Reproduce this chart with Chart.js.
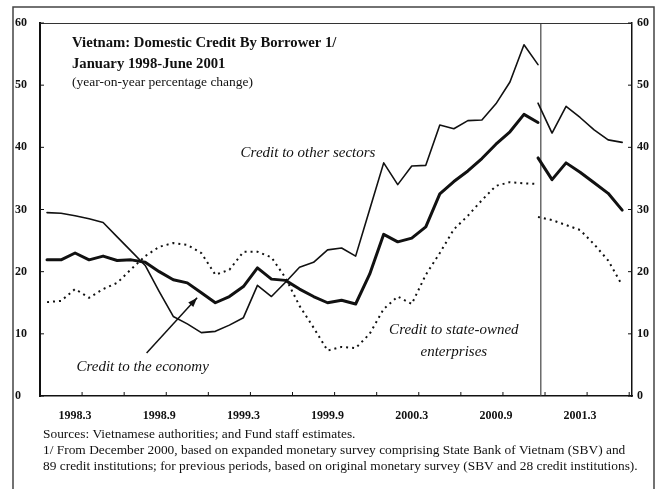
<!DOCTYPE html>
<html>
<head>
<meta charset="utf-8">
<script src="https://cdn.jsdelivr.net/npm/chart.js@4.4.1/dist/chart.umd.min.js"></script>
<style>
    html, body { margin:0; padding:0; background:#fff; }
    #wrap { width:656px; height:489px; }
</style>
</head>
<body>
<div id="wrap"><canvas id="myChart" width="656" height="489"></canvas></div>
<script>
// ============================================================
// DATA — monthly, year-on-year % change
// ============================================================

const periods = [
    '1998.1','1998.2','1998.3','1998.4','1998.5','1998.6','1998.7','1998.8','1998.9','1998.10','1998.11','1998.12',
    '1999.1','1999.2','1999.3','1999.4','1999.5','1999.6','1999.7','1999.8','1999.9','1999.10','1999.11','1999.12',
    '2000.1','2000.2','2000.3','2000.4','2000.5','2000.6','2000.7','2000.8','2000.9','2000.10','2000.11','2000.12',
    '2001.1','2001.2','2001.3','2001.4','2001.5','2001.6'
];

// old monetary survey: Jan 1998 - Dec 2000, expanded survey: Dec 2000 - Jun 2001
const oldBasisPeriods = periods.slice(0, 36);
const newBasisPeriods = periods.slice(35);

const otherSectorsOld = [29.5,29.4,29.0,28.5,27.9,25.6,23.3,21.0,16.8,12.8,11.6,10.2,
                         10.4,11.4,12.6,17.8,16.0,18.3,20.7,21.5,23.5,23.8,22.5,30.0,
                         37.5,34.0,37.0,37.1,43.6,43.0,44.3,44.4,47.0,50.5,56.5,53.3];
const otherSectorsNew = [47.1,42.3,46.6,44.8,42.8,41.2,40.8];

const economyOld = [21.9,21.9,23.0,21.9,22.5,21.8,21.9,21.5,20.0,18.7,18.2,16.6,
                    15.0,16.0,17.6,20.6,18.8,18.6,17.2,16.0,15.0,15.4,14.8,19.6,
                    26.0,24.8,25.4,27.2,32.5,34.5,36.2,38.2,40.5,42.5,45.3,44.0];
const economyNew = [38.3,34.8,37.5,36.0,34.3,32.6,29.9];

const soeOld = [15.1,15.3,17.2,15.8,17.2,18.2,20.4,22.5,24.0,24.6,24.3,23.0,
                19.5,20.3,23.2,23.2,22.3,19.0,14.5,11.0,7.3,7.9,7.7,10.0,
                14.0,16.0,14.8,19.5,23.0,26.8,29.0,31.5,33.8,34.4,34.2,34.1];
const soeNew = [28.8,28.3,27.5,26.7,24.4,21.8,17.8];

const xTickLabels = ['1998.3','1998.9','1999.3','1999.9','2000.3','2000.9','2001.3'];
const yTicks      = [0,10,20,30,40,50,60];
const breakAt     = 35.2;   // survey change, Dec 2000

const titleLines = [
    'Vietnam: Domestic Credit By Borrower 1/',
    'January 1998-June 2001',
    '(year-on-year percentage change)'
];
const footnotes = [
    'Sources: Vietnamese authorities; and Fund staff estimates.',
    '1/ From December 2000, based on expanded monetary survey comprising State Bank of Vietnam (SBV) and',
    '89 credit institutions; for previous periods, based on original monetary survey (SBV and 28 credit institutions).'
];

// ============================================================
// HELPERS
// ============================================================

function toPoints(keys, values) {
    return values.map((v, i) => ({ x: periods.indexOf(keys[i]), y: v }));
}

const INK   = '#111111';
const SERIF = '"Liberation Serif", "DejaVu Serif", serif';

function line(data, width, dash) {
    return {
        data: data,
        borderColor: INK,
        borderWidth: width,
        borderDash: dash || [],
        borderCapStyle: dash ? 'butt' : 'round',
        borderJoinStyle: 'round',
        pointRadius: 0,
        tension: 0,
        fill: false
    };
}

// ============================================================
// DECORATION — frames, title, labels, notes
// ============================================================

const decor = {
    id: 'decor',
    beforeDatasetsDraw(chart) {
        const { ctx, chartArea: a, scales } = chart;
        const bx = scales.x.getPixelForValue(breakAt);
        ctx.save();
        ctx.strokeStyle = '#444';
        ctx.lineWidth = 1.2;
        ctx.beginPath();
        ctx.moveTo(bx, a.top);
        ctx.lineTo(bx, a.bottom);
        ctx.stroke();
        ctx.restore();
    },
    afterDraw(chart) {
        const { ctx, chartArea: a, scales } = chart;
        const x = scales.x, y = scales.y;
        ctx.save();

        // outer frame
        ctx.strokeStyle = '#444';
        ctx.lineWidth = 1.5;
        ctx.beginPath();
        ctx.moveTo(13, 489);
        ctx.lineTo(13, 7);
        ctx.lineTo(654, 7);
        ctx.lineTo(654, 489);
        ctx.stroke();

        // top of plot frame
        ctx.strokeStyle = '#333';
        ctx.lineWidth = 1;
        ctx.beginPath();
        ctx.moveTo(a.left, a.top + 0.5);
        ctx.lineTo(a.right, a.top + 0.5);
        ctx.stroke();

        // inward ticks
        ctx.strokeStyle = INK;
        ctx.beginPath();
        yTicks.forEach(v => {
            const py = y.getPixelForValue(v);
            ctx.moveTo(a.left, py);      ctx.lineTo(a.left + 4, py);
            ctx.moveTo(a.right - 4, py); ctx.lineTo(a.right, py);
        });
        for (let i = 2.5; i < periods.length; i += 3) {
            const px = x.getPixelForValue(i);
            ctx.moveTo(px, a.bottom); ctx.lineTo(px, a.bottom - 4);
        }
        ctx.stroke();

        // title
        ctx.fillStyle = INK;
        ctx.textBaseline = 'middle';
        ctx.textAlign = 'left';
        ctx.font = 'bold 14.7px ' + SERIF;
        ctx.fillText(titleLines[0], 72, 43);
        ctx.fillText(titleLines[1], 72, 64);
        ctx.font = '13.5px ' + SERIF;
        ctx.fillText(titleLines[2], 72, 82);

        // series labels
        ctx.font = 'italic 15px ' + SERIF;
        ctx.fillText('Credit to other sectors', x.getPixelForValue(13.8), y.getPixelForValue(39.1));
        ctx.fillText('Credit to the economy',   x.getPixelForValue(2.1),  y.getPixelForValue(4.7));
        ctx.textAlign = 'center';
        ctx.fillText('Credit to state-owned', x.getPixelForValue(29.0), y.getPixelForValue(10.6));
        ctx.fillText('enterprises',           x.getPixelForValue(29.0), y.getPixelForValue(7.1));

        // arrow to the economy line
        const x0 = x.getPixelForValue(7.1),  y0 = y.getPixelForValue(6.9);
        const x1 = x.getPixelForValue(10.7), y1 = y.getPixelForValue(15.8);
        const ang = Math.atan2(y1 - y0, x1 - x0);
        ctx.strokeStyle = INK;
        ctx.lineWidth = 1.5;
        ctx.beginPath();
        ctx.moveTo(x0, y0);
        ctx.lineTo(x1, y1);
        ctx.stroke();
        ctx.beginPath();
        ctx.moveTo(x1, y1);
        ctx.lineTo(x1 - 10 * Math.cos(ang - 0.35), y1 - 10 * Math.sin(ang - 0.35));
        ctx.lineTo(x1 - 10 * Math.cos(ang + 0.35), y1 - 10 * Math.sin(ang + 0.35));
        ctx.closePath();
        ctx.fill();

        // notes
        ctx.textAlign = 'left';
        ctx.font = '13.4px ' + SERIF;
        footnotes.forEach((t, i) => ctx.fillText(t, 43, 434 + i * 16));

        ctx.restore();
    }
};

// ============================================================
// CHART
// ============================================================

const tickFont = { family: SERIF, size: 12, weight: 'bold' };

new Chart(document.getElementById('myChart'), {
    type: 'line',
    data: {
        datasets: [
            line(toPoints(oldBasisPeriods, otherSectorsOld), 1.6),
            line(toPoints(newBasisPeriods, otherSectorsNew), 1.6),
            line(toPoints(oldBasisPeriods, economyOld), 3),
            line(toPoints(newBasisPeriods, economyNew), 3),
            line(toPoints(oldBasisPeriods, soeOld), 2, [2, 4]),
            line(toPoints(newBasisPeriods, soeNew), 2, [2, 4])
        ]
    },
    options: {
        responsive: false,
        animation: false,
        devicePixelRatio: 1,
        layout: { padding: { left: 15, top: 23, right: 0, bottom: 0 } },
        plugins: { legend: { display: false }, tooltip: { enabled: false } },
        scales: {
            x: {
                type: 'linear',
                min: -0.5,
                max: 41.7,
                afterFit: s => { s.height = 93; },
                afterBuildTicks: s => {
                    s.ticks = xTickLabels.map(l => ({ value: periods.indexOf(l) }));
                },
                grid: { display: false, drawTicks: false },
                border: { display: true, color: INK, width: 1.5 },
                ticks: {
                    color: INK,
                    font: { family: SERIF, size: 12, weight: 'bold' },
                    padding: 13,
                    maxRotation: 0,
                    autoSkip: false,
                    callback: v => periods[v]
                }
            },
            y: {
                position: 'left',
                min: 0,
                max: 60,
                afterFit: s => { s.width = 25; },
                grid: { display: false, drawTicks: false },
                border: { display: true, color: INK, width: 2 },
                ticks: { stepSize: 10, color: INK, font: tickFont, crossAlign: 'far', padding: 0 }
            },
            y2: {
                position: 'right',
                min: 0,
                max: 60,
                afterFit: s => { s.width = 24; },
                grid: { display: false, drawTicks: false },
                border: { display: true, color: INK, width: 1.5 },
                ticks: { stepSize: 10, color: INK, font: tickFont, padding: 5 }
            }
        }
    },
    plugins: [decor]
});
</script>
</body>
</html>
